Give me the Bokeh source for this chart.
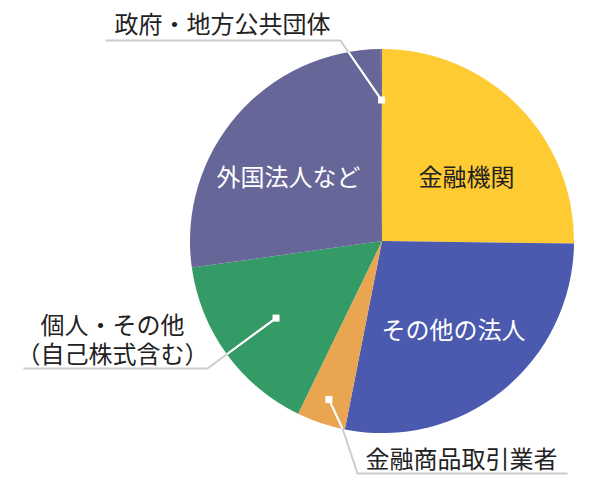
import math
from bokeh.plotting import figure
from bokeh.models import Range1d, ColumnDataSource
from bokeh.core.properties import value
from bokeh.embed import file_html
from bokeh.resources import INLINE

# ---- data (percent shares, clockwise from 12 o'clock) ----
categories = ["金融機関", "その他の法人", "金融商品取引業者", "個人・その他", "外国法人など", "政府・地方公共団体"]
shares = [25.2, 27.9, 4.1, 15.6, 27.1, 0.1]
colors = ["#FFCB32", "#4B5AAE", "#E9A550", "#349A66", "#666699", "#69699B"]

W, H = 600, 480
FONT = value("Noto Sans CJK JP")

def P(x, y):
    # reference pixel -> data coords (y up)
    return x, H - y

cx, cy = P(381.5, 240.6)
R = 192.0

p = figure(width=W, height=H, output_backend="svg", toolbar_location=None,
           x_range=Range1d(0, W), y_range=Range1d(0, H), min_border=0,
           outline_line_color=None, background_fill_color="white",
           border_fill_color="white")
p.axis.visible = False
p.grid.visible = False

total = sum(shares)
starts, ends, mids = [], [], []
cum = 0.0
for s in shares:
    a0 = math.pi / 2 - 2 * math.pi * cum / total
    cum += s
    a1 = math.pi / 2 - 2 * math.pi * cum / total
    starts.append(a1)
    ends.append(a0)
    mids.append((a0 + a1) / 2)

src = ColumnDataSource(dict(cat=categories, start=starts, end=ends, color=colors))
p.wedge(x=cx, y=cy, radius=R, start_angle="start", end_angle="end",
        fill_color="color", line_color=None, source=src)

def anchor(i, r):
    return cx + r * math.cos(mids[i]), cy + r * math.sin(mids[i])

def circle_exit(a, b):
    ax, ay = a; bx, by = b
    dx, dy = bx - ax, by - ay
    fx, fy = ax - cx, ay - cy
    A = dx * dx + dy * dy
    B = 2 * (fx * dx + fy * dy)
    C = fx * fx + fy * fy - R * R
    disc = B * B - 4 * A * C
    if disc < 0:
        return b
    t = (-B + math.sqrt(disc)) / (2 * A)
    t = max(0.0, min(1.0, t))
    return ax + t * dx, ay + t * dy

GRAY = "#CCCCCC"
leaders = [
    (5, 141, [P(340, 40), P(105, 40)]),
    (2, 167, [P(342, 428), P(357, 473), P(567, 473)]),
    (3, 131, [P(207, 368), P(23, 368)]),
]
mx, my = [], []
for idx, r, pts in leaders:
    a = anchor(idx, r)
    xs = [a[0]] + [q[0] for q in pts]
    ys = [a[1]] + [q[1] for q in pts]
    p.line(xs, ys, line_color=GRAY, line_width=2)
    e = circle_exit(a, pts[0])
    p.line([a[0], e[0]], [a[1], e[1]], line_color="white", line_width=2)
    mx.append(a[0]); my.append(a[1])

p.scatter(mx, my, marker="square", size=7, fill_color="white", line_color=None)

DARK = "#222222"
labels = [
    (categories[0], P(466, 175), DARK),
    (categories[1], P(453, 328), "white"),
    (categories[4], P(288, 175), "white"),
    (categories[5], P(222, 22), DARK),
    (categories[2], P(461, 457), DARK),
    (categories[3], P(112, 323), DARK),
    ("（自己株式含む）", P(112, 352), DARK),
]
for t, (x, y), c in labels:
    p.text(x=[x], y=[y], text=[t], text_align="center", text_baseline="middle",
           text_font=FONT, text_font_size="24px", text_color=c)

open("out.html", "w").write(file_html(p, INLINE))
